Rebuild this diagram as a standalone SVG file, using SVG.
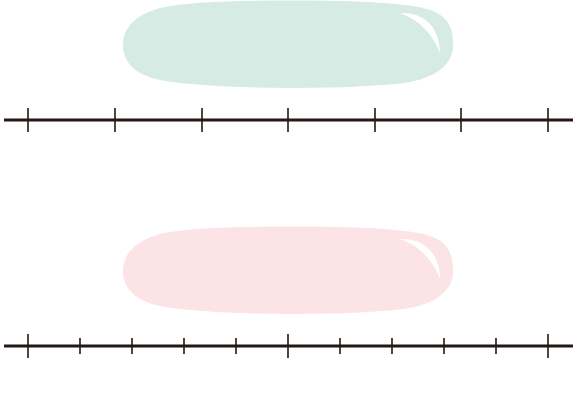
<svg xmlns="http://www.w3.org/2000/svg" width="577" height="412" viewBox="0 0 577 412">
<defs>
<style>
.axis{stroke:#231815;stroke-width:3;fill:none}
.tick{stroke:#231815;stroke-width:1.6;fill:none}
.hl{fill:#ffffff}
</style>
<path id="blob" d="M 290 0.5 C 360 0.5 410 3 430 10 C 450 17 453 30 453 45 C 453 62 440 76 410 82 C 380 87 320 88 290 88 C 240 88 185 85 160 80 C 135 75 123 62 123 45 C 123 28 135 15 160 8 C 185 2 240 0.5 290 0.5 Z"/>
<path id="shine" d="M 400 13 C 425 12 440 28 440 53 C 433 35 420 20 400 13 Z"/>
</defs>
<rect width="577" height="412" fill="#ffffff"/>
<g id="top-bar">
<use href="#blob" fill="#d6ebe4"/>
<use href="#shine" class="hl"/>
</g>
<g id="top-axis">
<line class="axis" x1="4" y1="120" x2="573" y2="120"/>
<path class="tick" d="M28 108V132M115 108V132M202 108V132M288 108V132M375 108V132M461 108V132M548 108V132"/>
</g>
<g id="bottom-bar" transform="translate(0,226)">
<use href="#blob" fill="#fbe3e6"/>
<use href="#shine" class="hl"/>
</g>
<g id="bottom-axis">
<line class="axis" x1="4" y1="346" x2="573" y2="346"/>
<path class="tick" d="M28 334V358M288 334V358M548 334V358M80 338V354M132 338V354M184 338V354M236 338V354M340 338V354M392 338V354M444 338V354M496 338V354"/>
</g>
</svg>
